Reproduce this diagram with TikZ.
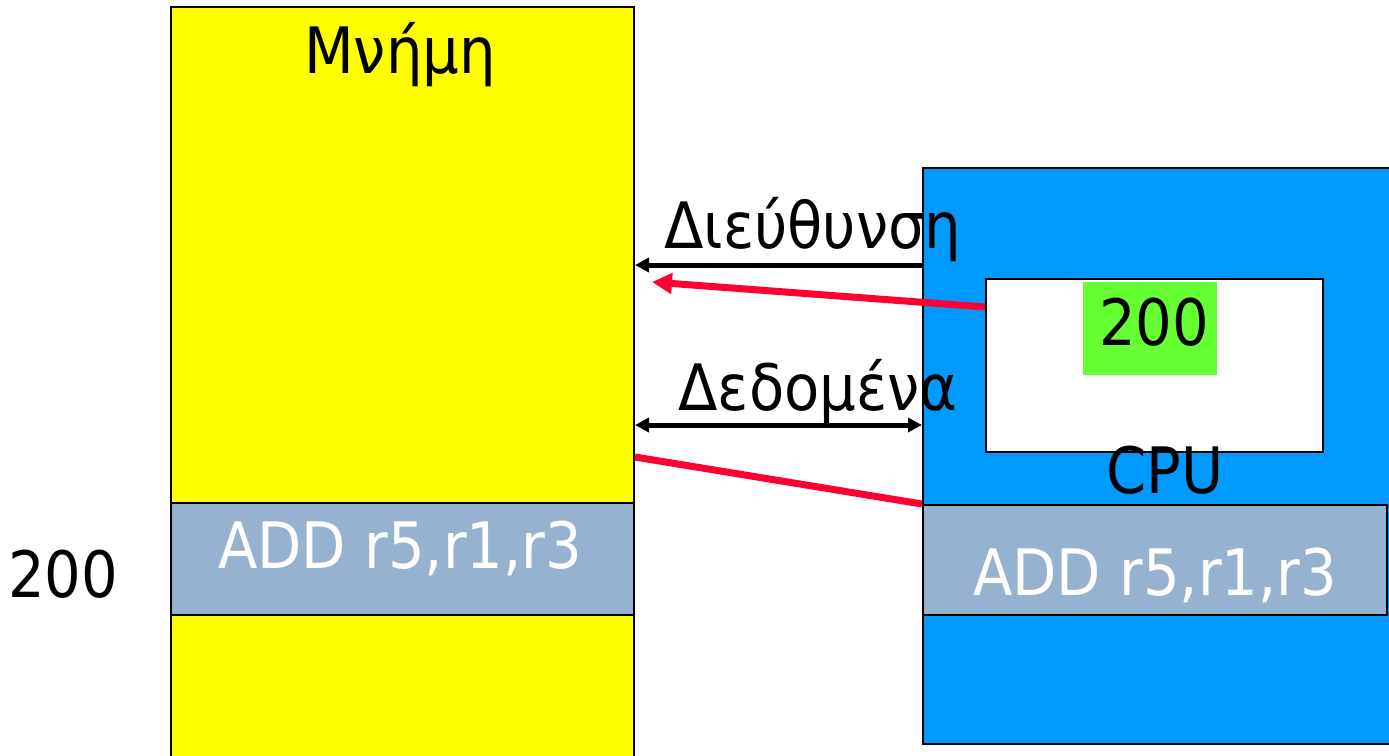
\documentclass[tikz,border=0pt]{standalone}
\usepackage{fontspec}
\setmainfont{DejaVu Sans Condensed}
\usetikzlibrary{arrows.meta}
\definecolor{memyellow}{HTML}{FFFF00}
\definecolor{cpublue}{HTML}{0099FF}
\definecolor{slotblue}{HTML}{95B3D1}
\definecolor{valgreen}{HTML}{66FF33}
\definecolor{busred}{HTML}{FF0033}
\tikzset{
    box/.style={
        draw=black,
        line width=1pt,
        inner sep=0pt,
        rectangle},
    txt/.style={
        anchor=base,
        inner sep=0pt,
        font=\fontsize{32}{32}\selectfont},
    bus/.style={
        draw=black,
        line width=2.5pt},
    redbus/.style={
        draw=busred,
        line width=3.5pt},
    tip/.style={
        -{Triangle[length=#1,width=#1]}}}

\begin{document}
\begin{tikzpicture}[x=0.5pt,y=-0.5pt]
        \clip (0,0) rectangle (1389,756);

        % memory column
        \node[box,fill=memyellow,minimum width=231.5pt,minimum height=396.5pt] (mem) at (402.5,403.5) {};
        \node[box,fill=slotblue,minimum width=231.5pt,minimum height=56pt] (memslot) at (402.5,559) {};

        % cpu
        \node[box,fill=cpublue,minimum width=236pt,minimum height=288pt] (cpu) at (1159,456) {};
        \node[box,fill=white,minimum width=168.5pt,minimum height=86.5pt] (reg) at (1154.5,365.5) {};
        \node[fill=valgreen,inner sep=0pt,minimum width=67pt,minimum height=46.5pt] (val) at (1150,328.5) {};
        \node[box,fill=slotblue,minimum width=232pt,minimum height=55pt] (cpuslot) at (1155,560) {};

        % texts
        \node[txt] (memlbl) at (400,73) {Μνήμη};
        \node[txt] (addr) at (63,597) {200};
        \node[txt,text=white] (memtxt) at (400,568) {ADD r5,r1,r3};
        \node[txt] (vallbl) at (1154,345) {200};
        \node[txt] (cpulbl) at (1165,493) {CPU};
        \node[txt,text=white] (cputxt) at (1155,595) {ADD r5,r1,r3};
        \node[txt] (addrlbl) at (813,248) {Διεύθυνση};
        \node[txt] (datalbl) at (818,410) {Δεδομένα};

        % buses
        \coordinate (rtip) at (652,282);
        \draw[bus,tip=7pt] (cpu.west |- 0,265) -- (mem.east |- 0,265);
        \draw[bus,{Triangle[length=7pt,width=7pt]}-{Triangle[length=7pt,width=7pt]}] (mem.east |- 0,425) -- (cpu.west |- 0,425);
        \draw[redbus,tip=10pt] (reg.west |- 0,307) -- (rtip);
        \draw[redbus] (mem.east |- 0,457) -- (cpuslot.north west);

    \end{tikzpicture}
\end{document}
